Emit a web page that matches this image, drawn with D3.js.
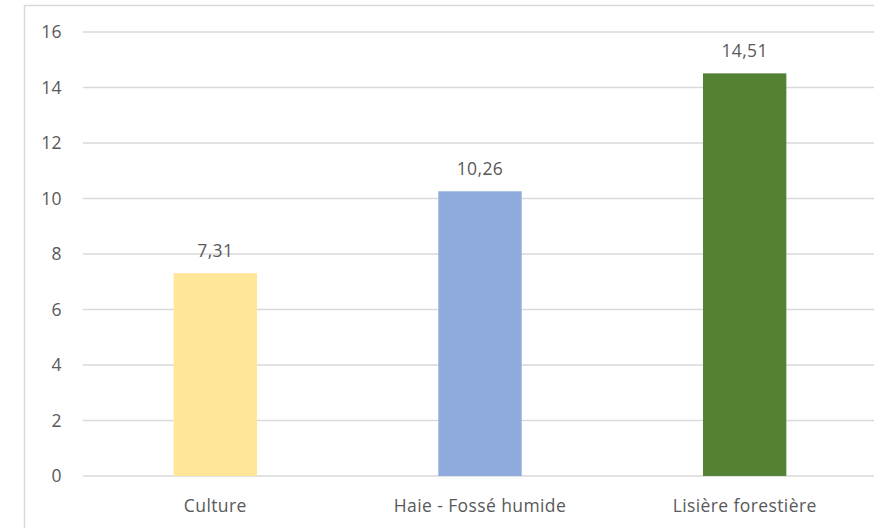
<!DOCTYPE html>
<html>
<head>
<meta charset="utf-8">
<script src="https://cdn.jsdelivr.net/npm/d3@7"></script>
<style>
  body { margin: 0; background: #fff; }
  text { font-family: "Open Sans", sans-serif; fill: #595959; font-size: 17.5px; letter-spacing: 0.4px; }
</style>
</head>
<body>
<svg id="chart"></svg>
<script>
const categories = ['Culture', 'Haie - Fossé humide', 'Lisière forestière']
const values = [7.31, 10.26, 14.51]
const barColors = ['#FFE699', '#8FAADC', '#548235']
const yTicks = [0, 2, 4, 6, 8, 10, 12, 14, 16]

const width = 874
const height = 528
const margin = { top: 32, right: -3, bottom: 52, left: 83 }

const svg = d3.select('#chart')
    .attr('width', width)
    .attr('height', height)

// chart frame
svg.append('rect')
    .attr('x', 24.5).attr('y', 5.5)
    .attr('width', width).attr('height', height)
    .attr('fill', 'none')
    .attr('stroke', '#d9d9d9')
    .attr('stroke-width', 1.5)

const x = d3.scaleBand()
    .domain(categories)
    .range([margin.left, width - margin.right])
    .paddingInner(0.685)
    .paddingOuter(0.3425)

const y = d3.scaleLinear()
    .domain([0, 16])
    .range([height - margin.bottom, margin.top])

// gridlines
svg.append('g')
    .selectAll('line')
    .data(yTicks)
    .enter().append('line')
    .attr('x1', margin.left)
    .attr('x2', width - margin.right)
    .attr('y1', d => y(d))
    .attr('y2', d => y(d))
    .attr('stroke', '#d9d9d9')
    .attr('stroke-width', 1.3)

// y tick labels
svg.append('g')
    .selectAll('text')
    .data(yTicks)
    .enter().append('text')
    .attr('x', 62)
    .attr('y', d => y(d))
    .attr('dy', '0.36em')
    .attr('text-anchor', 'end')
    .text(d => d)

// bars
svg.append('g')
    .selectAll('rect')
    .data(values)
    .enter().append('rect')
    .attr('x', (d, i) => x(categories[i]))
    .attr('width', x.bandwidth())
    .attr('y', d => y(d))
    .attr('height', d => y(0) - y(d))
    .attr('fill', (d, i) => barColors[i])

// value labels
svg.append('g')
    .selectAll('text')
    .data(values)
    .enter().append('text')
    .attr('x', (d, i) => x(categories[i]) + x.bandwidth() / 2)
    .attr('y', d => y(d) - 16)
    .attr('text-anchor', 'middle')
    .text(d => d.toFixed(2).replace('.', ','))

// category labels
svg.append('g')
    .selectAll('text')
    .data(categories)
    .enter().append('text')
    .attr('x', d => x(d) + x.bandwidth() / 2)
    .attr('y', 511.5)
    .attr('text-anchor', 'middle')
    .text(d => d)
</script>
</body>
</html>
